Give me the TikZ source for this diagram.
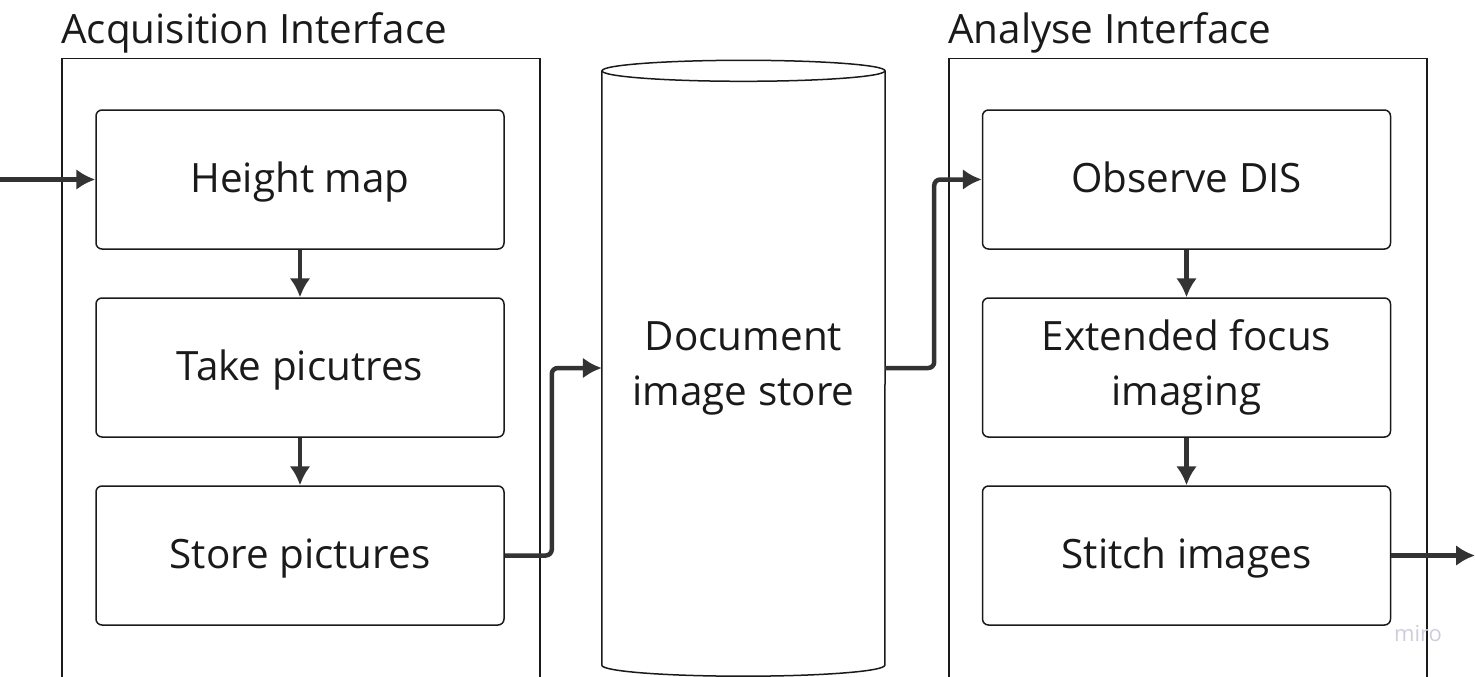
\documentclass[tikz,border=0pt]{standalone}
\usepackage{fontspec}
\setmainfont{Open Sans}
\usepackage{tikz}
\usetikzlibrary{positioning, arrows.meta}

\definecolor{inkc}{HTML}{1A1A1A}
\definecolor{flowc}{HTML}{333333}
\definecolor{miroc}{HTML}{CDCDDE}

\begin{document}
\begin{tikzpicture}[x=1pt, y=-1pt, font=\fontsize{40.4}{55}\selectfont, text=inkc,
    frame/.style={draw=inkc, line width=1.5pt, minimum width=478pt, minimum height=660pt, anchor=north west},
    stepbox/.style={draw=inkc, line width=1.5pt, align=center, rounded corners=6pt, minimum width=408pt, minimum height=139pt},
    oneline/.style={stepbox, text height=30pt, text depth=5pt},
    flow/.style={draw=flowc, line width=4.5pt, rounded corners=6pt, -{Latex[length=19pt, width=21pt]}}]
      \clip (0,0) rectangle (1475,677);

      % frames
      \node[frame] (A) at (61,58)  {};
      \node[frame] (B) at (948,58) {};
      \node[anchor=south west, inner sep=0pt] (At) at ([yshift=5pt]A.north west) {Acquisition Interface};
      \node[anchor=south west, inner sep=0pt] (Bt) at ([yshift=5pt]B.north west) {Analyse Interface};

      % acquisition
      \node[oneline] (H)  at (300,179.5) {Height map};
      \node[oneline] (T)  at (300,367.5) {Take picutres};
      \node[oneline] (S)  at (300,555.5) {Store pictures};

      % store
      \node[align=center, minimum width=283pt, minimum height=594pt, inner sep=0pt] (DB) at (743.5,368) {Document\\image store};
      \draw[draw=inkc, line width=1.5pt] (DB.north west) -- (DB.south west)
            arc[start angle=180, end angle=360, x radius=141.5pt, y radius=11pt] -- (DB.north east);
      \draw[draw=inkc, line width=1.5pt] (DB.north) ellipse[x radius=141.5pt, y radius=10.5pt];

      % analyse
      \node[oneline] (O)  at (1186.5,179.5) {Observe DIS};
      \node[stepbox] (EF) at (1186.5,367.5) {Extended focus\\imaging};
      \node[oneline] (SI) at (1186.5,555.5) {Stitch images};

      \coordinate (in)  at (0,179.5);
      \coordinate (out) at (1475,555.5);

      \draw[flow] (in) -- (H);
      \draw[flow] (H) -- (T);
      \draw[flow] (T) -- (S);
      \draw[flow] (S.east) -- ++(47,0) |- (DB.west);
      \draw[flow] (DB.east) -- ++(49,0) |- (O.west);
      \draw[flow] (O) -- (EF);
      \draw[flow] (EF) -- (SI);
      \draw[flow] (SI.east) -- (out);

      \node[font=\fontsize{22}{26}\selectfont, text=miroc] (miro) at (1418,634) {miro};
    \end{tikzpicture}
\end{document}
